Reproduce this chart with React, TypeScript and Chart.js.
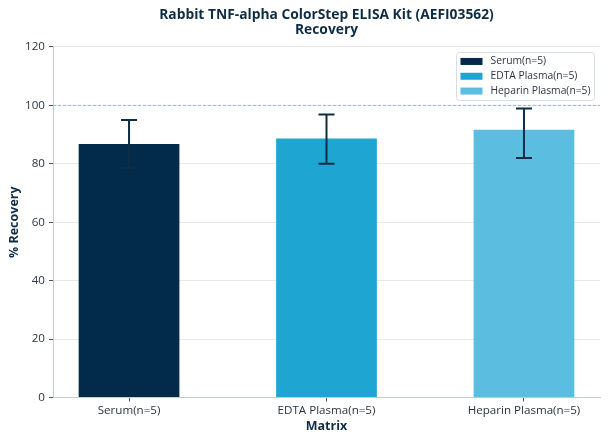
import { useEffect, useRef } from 'react';
import { Chart, registerables } from 'chart.js';

Chart.register(...registerables);

const categories = ['Serum(n=5)', 'EDTA Plasma(n=5)', 'Heparin Plasma(n=5)'];
const recovery = [86.8, 88.7, 91.7];
const errLower = [78.6, 80.0, 82.0];
const errUpper = [95.0, 96.9, 98.9];
const barColors = ['#022b4b', '#1fa5d2', '#5bbde0'];
const refLine = 100;
const yTicks = [0, 20, 40, 60, 80, 100, 120];

const FONT = "'Open Sans', 'Noto Sans', sans-serif";
const NAVY = '#0f2c45';

export default function App() {
  const canvasRef = useRef<HTMLCanvasElement | null>(null);

  useEffect(() => {
    if (!canvasRef.current) return;

    const chart = new Chart(canvasRef.current, {
      type: 'bar',
      data: {
        datasets: [
          {
            data: recovery.map((v, i) => ({ x: i, y: v })),
            backgroundColor: barColors,
            borderWidth: 0,
            barPercentage: 0.51,
            categoryPercentage: 1,
          },
        ],
      },
      options: {
        responsive: false,
        animation: false,
        layout: { padding: { left: 0, right: 8, top: 0, bottom: 0 } },
        scales: {
          x: {
            type: 'linear',
            offset: false,
            min: -0.385,
            max: 2.385,
            afterBuildTicks: (scale) => {
              scale.ticks = categories.map((_, i) => ({ value: i }));
            },
            afterFit: (scale) => {
              scale.height = 46.5;
            },
            ticks: {
              callback: (v) => categories[v as number] ?? '',
              font: { family: FONT, size: 11.6 },
              color: '#2b3540',
              padding: 2,
              maxRotation: 0,
            },
            grid: {
              offset: false,
              drawOnChartArea: false,
              drawTicks: true,
              tickLength: 4,
              tickColor: '#555',
            },
            border: { color: '#c3ccd2', width: 1 },
            title: {
              display: true,
              text: 'Matrix',
              font: { family: FONT, size: 12.5, weight: 'bold' },
              color: NAVY,
              padding: { top: 0, bottom: 10 },
            },
          },
          y: {
            min: 0,
            max: 120,
            afterBuildTicks: (scale) => {
              scale.ticks = yTicks.map((v) => ({ value: v }));
            },
            afterFit: (scale) => {
              scale.width = 53;
            },
            ticks: {
              font: { family: FONT, size: 11.6 },
              color: '#2b3540',
              padding: 4,
            },
            grid: {
              color: '#e6eaed',
              lineWidth: 1,
              tickLength: 4,
              tickColor: '#555',
            },
            border: { color: '#c3ccd2', width: 1 },
            title: {
              display: true,
              text: '% Recovery',
              font: { family: FONT, size: 12.5, weight: 'bold' },
              color: NAVY,
              padding: { top: 7, bottom: 0 },
            },
          },
        },
        plugins: {
          legend: { display: false },
          tooltip: { enabled: false },
          title: {
            display: true,
            fullSize: false,
            text: ['Rabbit TNF-alpha ColorStep ELISA Kit (AEFI03562)', 'Recovery'],
            font: { family: FONT, size: 13.8, weight: 'bold', lineHeight: 1.1 },
            color: NAVY,
            padding: { top: 7, bottom: 9.6 },
          },
        },
      },
      plugins: [
        {
          id: 'refLine',
          beforeDatasetsDraw(c) {
            const { ctx, chartArea } = c;
            const y = c.scales.y.getPixelForValue(refLine);
            ctx.save();
            ctx.strokeStyle = '#7cc3d6';
            ctx.lineWidth = 1;
            ctx.setLineDash([3, 2]);
            ctx.beginPath();
            ctx.moveTo(chartArea.left, y);
            ctx.lineTo(chartArea.right, y);
            ctx.stroke();
            ctx.restore();
          },
        },
        {
          id: 'errorBars',
          afterDatasetsDraw(c) {
            const { ctx } = c;
            const xs = c.scales.x;
            const ys = c.scales.y;
            ctx.save();
            ctx.strokeStyle = NAVY;
            ctx.lineWidth = 2;
            recovery.forEach((_, i) => {
              const x = xs.getPixelForValue(i);
              const yLo = ys.getPixelForValue(errLower[i]);
              const yHi = ys.getPixelForValue(errUpper[i]);
              ctx.beginPath();
              ctx.moveTo(x, yLo);
              ctx.lineTo(x, yHi);
              ctx.moveTo(x - 8, yHi);
              ctx.lineTo(x + 8, yHi);
              ctx.moveTo(x - 8, yLo);
              ctx.lineTo(x + 8, yLo);
              ctx.stroke();
            });
            ctx.restore();
          },
        },
        {
          id: 'boxLegend',
          afterDraw(c) {
            const { ctx, chartArea } = c;
            const w = 138;
            const h = 48;
            const left = chartArea.right - 5.5 - w;
            const top = chartArea.top + 5.5;
            ctx.save();
            ctx.fillStyle = 'rgba(255,255,255,0.9)';
            ctx.strokeStyle = '#d8dde1';
            ctx.lineWidth = 1;
            ctx.beginPath();
            ctx.roundRect(left, top, w, h, 3);
            ctx.fill();
            ctx.stroke();
            ctx.font = `10.3px ${FONT}`;
            ctx.textBaseline = 'middle';
            ctx.textAlign = 'left';
            categories.forEach((name, i) => {
              const cy = top + 9 + i * 14.8;
              ctx.fillStyle = barColors[i];
              ctx.fillRect(left + 4, cy - 3.5, 22, 7);
              ctx.fillStyle = '#2b3540';
              ctx.fillText(name, left + 34, cy);
            });
            ctx.restore();
          },
        },
      ],
    });

    return () => {
      chart.destroy();
    };
  }, []);

  return (
    <div style={{ position: 'absolute', left: 0, top: 0, width: 608, height: 444, background: '#fff' }}>
      <canvas ref={canvasRef} width={608} height={444} />
    </div>
  );
}
